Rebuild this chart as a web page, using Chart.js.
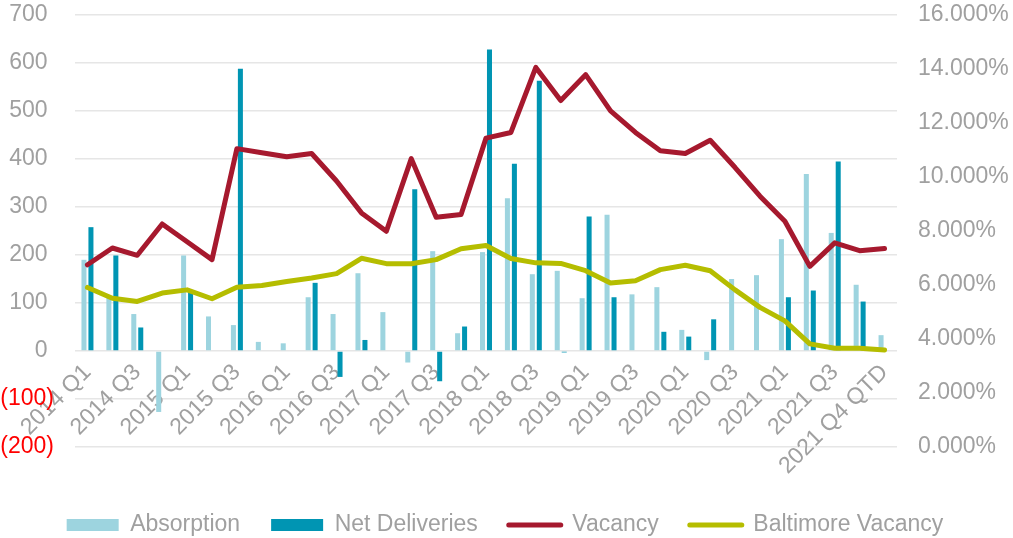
<!DOCTYPE html>
<html>
<head>
<meta charset="utf-8">
<title>Absorption, Net Deliveries and Vacancy</title>
<script src="https://cdn.jsdelivr.net/npm/chart.js@4.4.1/dist/chart.umd.min.js"></script>
<style>
  body { margin: 0; background: #ffffff; }
  #wrap { width: 1013px; height: 538px; position: relative; }
</style>
</head>
<body>
<div id="wrap"><canvas id="diagrama"></canvas></div>
<script>
const quarters = ['2014 Q1', '2014 Q2', '2014 Q3', '2014 Q4', '2015 Q1', '2015 Q2', '2015 Q3', '2015 Q4',
  '2016 Q1', '2016 Q2', '2016 Q3', '2016 Q4', '2017 Q1', '2017 Q2', '2017 Q3', '2017 Q4',
  '2018 Q1', '2018 Q2', '2018 Q3', '2018 Q4', '2019 Q1', '2019 Q2', '2019 Q3', '2019 Q4',
  '2020 Q1', '2020 Q2', '2020 Q3', '2020 Q4', '2021 Q1', '2021 Q2', '2021 Q3', '2021 Q4', '2021 Q4 QTD'];

const absorption = [190, 112, 77, -127, 199, 72, 54, 19, 16, 112, 77, 162, 81, -24, 208, 37,
  206, 318, 160, 167, 110, 284, 118, 133, 44, -19, 150, 158, 233, 369, 246, 138, 33];

const netDeliveries = [258, 199, 49, 0, 124, 0, 588, 0, 0, 142, -54, 23, 0, 337, -63, 51,
  628, 390, 563, -3, 280, 112, 0, 40, 30, 66, 0, 0, 112, 126, 395, 103, 0];

// vacancy in percent
const vacancy = [6.75, 7.37, 7.10, 8.26, 7.60, 6.94, 11.05, 10.90, 10.75, 10.87, 9.85, 8.67, 7.99, 10.68, 8.51, 8.61,
  11.44, 11.65, 14.06, 12.83, 13.79, 12.45, 11.65, 10.97, 10.87, 11.36, 10.35, 9.29, 8.36, 6.69, 7.56, 7.27, 7.35];

const baltimoreVacancy = [5.91, 5.51, 5.39, 5.70, 5.82, 5.49, 5.92, 5.98, 6.13, 6.26, 6.42, 6.99, 6.79, 6.79, 6.94, 7.34,
  7.46, 6.98, 6.82, 6.80, 6.53, 6.07, 6.16, 6.57, 6.73, 6.53, 5.82, 5.17, 4.67, 3.82, 3.66, 3.66, 3.59];

const leftTicks = { min: -200, max: 700, step: 100 };
const rightTicks = { min: 0, max: 16, step: 2 };

const pilka = '#A0A0A0';
const fontas = "'Liberation Sans', Arial, sans-serif";

// left axis labels: negatives in brackets, positives padded like Excel's _)
function kairesEtikete(value) {
  if (value < 0) {
    return '(' + Math.abs(value) + ')';
  }
  return value + ' ';
}

// fixed axis sizes so the plot area sits where the original one does
function asiesDydis(plotis) {
  return function (scale) {
    scale.width = plotis;
    scale.paddingTop = 15;
    scale.paddingBottom = 0;
  };
}

// push the legend a bit lower, under the rotated quarter labels
const legendShift = {
  id: 'legendShift',
  afterLayout(chart) {
    if (!chart.legend) return;
    chart.legend.top += 35.5;
    chart.legend.bottom += 35.5;
  }
};

const ctx = document.getElementById('diagrama').getContext('2d');
new Chart(ctx, {
  data: {
    labels: quarters,
    datasets: [
      {
        type: 'bar',
        label: 'Absorption',
        data: absorption,
        backgroundColor: '#9DD4DF',
        borderWidth: 0,
        yAxisID: 'y',
        order: 2,
        categoryPercentage: 0.56,
        barPercentage: 0.72
      },
      {
        type: 'bar',
        label: 'Net Deliveries',
        data: netDeliveries,
        backgroundColor: '#0095B3',
        borderWidth: 0,
        yAxisID: 'y',
        order: 2,
        categoryPercentage: 0.56,
        barPercentage: 0.72
      },
      {
        type: 'line',
        label: 'Vacancy',
        data: vacancy,
        borderColor: '#A6192E',
        backgroundColor: '#A6192E',
        borderWidth: 5,
        borderCapStyle: 'round',
        borderJoinStyle: 'round',
        pointRadius: 0,
        tension: 0,
        fill: false,
        yAxisID: 'y1',
        order: 0
      },
      {
        type: 'line',
        label: 'Baltimore Vacancy',
        data: baltimoreVacancy,
        borderColor: '#B5BD00',
        backgroundColor: '#B5BD00',
        borderWidth: 5,
        borderCapStyle: 'round',
        borderJoinStyle: 'round',
        pointRadius: 0,
        tension: 0,
        fill: false,
        yAxisID: 'y1',
        order: 1
      }
    ]
  },
  options: {
    responsive: true,
    maintainAspectRatio: false,
    animation: false,
    layout: {
      padding: { top: 0, right: 3, left: 0, bottom: 27 }
    },
    scales: {
      x: {
        position: { y: 0 },
        grid: { display: false, drawTicks: false },
        border: { display: false },
        ticks: {
          autoSkip: false,
          minRotation: 45,
          maxRotation: 45,
          padding: 8,
          color: pilka,
          font: { family: fontas, size: 23 },
          callback: function (value, index) {
            return index % 2 === 0 ? this.getLabelForValue(value) : '';
          }
        },
        afterFit: function (scale) {
          scale.height = 0;
          scale.paddingLeft = 0;
          scale.paddingRight = 0;
        }
      },
      y: {
        position: 'left',
        min: leftTicks.min,
        max: leftTicks.max,
        grid: { color: '#E6E6E6', lineWidth: 1.5, drawTicks: false },
        border: { display: false },
        ticks: {
          stepSize: leftTicks.step,
          padding: 21,
          font: { family: fontas, size: 23 },
          color: (c) => (c.tick && c.tick.value < 0 ? '#FF0000' : pilka),
          callback: kairesEtikete
        },
        afterFit: asiesDydis(75)
      },
      y1: {
        position: 'right',
        min: rightTicks.min,
        max: rightTicks.max,
        grid: { display: false, drawTicks: false },
        border: { display: false },
        ticks: {
          stepSize: rightTicks.step,
          padding: 21,
          color: pilka,
          font: { family: fontas, size: 23 },
          callback: (value) => value.toFixed(3) + '%'
        },
        afterFit: asiesDydis(113)
      }
    },
    plugins: {
      tooltip: { enabled: false },
      legend: {
        position: 'bottom',
        labels: {
          usePointStyle: true,
          pointStyleWidth: 52,
          boxHeight: 12,
          padding: 31,
          color: pilka,
          font: { family: fontas, size: 23 },
          sort: (a, b) => a.datasetIndex - b.datasetIndex,
          generateLabels: function (chart) {
            const items = Chart.defaults.plugins.legend.labels.generateLabels(chart);
            items.forEach(item => {
              const ds = chart.data.datasets[item.datasetIndex];
              const linija = ds.type === 'line';
              item.pointStyle = linija ? 'line' : 'rect';
              item.lineWidth = linija ? 5 : 0;
              item.lineCap = 'round';
              item.strokeStyle = ds.borderColor || ds.backgroundColor;
              item.fillStyle = ds.backgroundColor;
              item.fontColor = pilka;
            });
            return items;
          }
        }
      }
    }
  },
  plugins: [legendShift]
});
</script>
</body>
</html>
